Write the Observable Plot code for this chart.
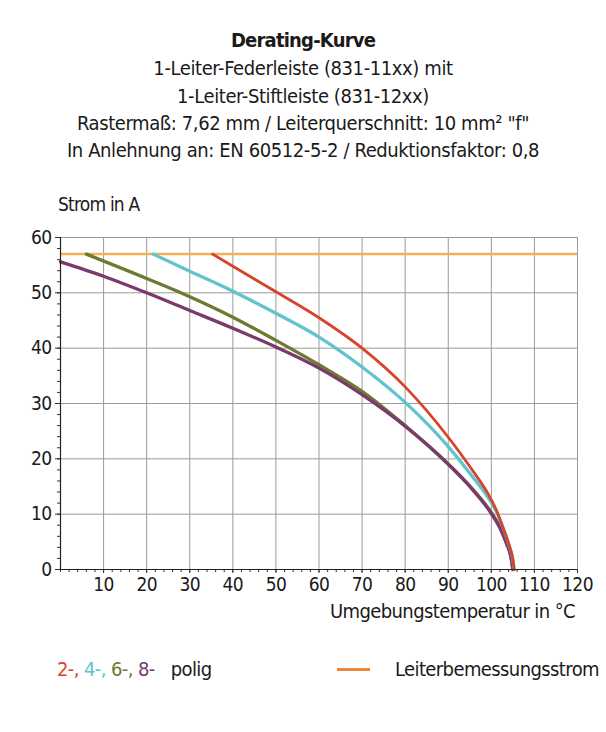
<!DOCTYPE html>
<html><head><meta charset="utf-8">
<script src="https://cdn.jsdelivr.net/npm/d3@7"></script>
<script src="https://cdn.jsdelivr.net/npm/@observablehq/plot@0.6"></script>
<style>
body{margin:0;background:#fff;font-family:"Liberation Sans Narrow","DejaVu Sans Condensed","DejaVu Sans",sans-serif;font-stretch:condensed;color:#1a1a1a;}
#wrap{position:relative;width:606px;height:732px;overflow:hidden;background:#fff}
.t{position:absolute;white-space:nowrap;font-size:20px;line-height:20px;letter-spacing:-0.4px}
.c{left:0;width:606px;text-align:center}
#chart{position:absolute;left:0;top:170px}
.dash{position:absolute;height:3px;background:#e9883c}
</style></head><body><div id="wrap">
<div class="t c" style="top:30px;font-weight:bold;letter-spacing:-0.8px">Derating-Kurve</div>
<div class="t c" style="top:58px">1-Leiter-Federleiste (831-11xx) mit</div>
<div class="t c" style="top:86px">1-Leiter-Stiftleiste (831-12xx)</div>
<div class="t c" style="top:113px">Rastermaß: 7,62 mm / Leiterquerschnitt: 10 mm² "f"</div>
<div class="t c" style="top:140px">In Anlehnung an: EN 60512-5-2 / Reduktionsfaktor: 0,8</div>
<div class="t" style="top:194px;left:58px;font-size:19px;letter-spacing:-0.8px">Strom in A</div>
<div id="chart"></div>
<div class="t" style="top:601px;right:31px;letter-spacing:-0.6px">Umgebungstemperatur in °C</div>
<div class="t" id="leg1" style="top:659px;left:57px;letter-spacing:-0.6px"></div>
<div class="dash" style="top:668px;left:337px;width:33px"></div>
<div class="t" style="top:659px;right:7px;letter-spacing:-0.6px">Leiterbemessungsstrom</div>
</div>
<script>
// Series names and colours
const seriesNames = ["2-polig", "4-polig", "6-polig", "8-polig"];
const seriesColors = ["#d8432c", "#60c4ce", "#6d7a31", "#7a3a6c"];
const legendLabels = ["2-", "4-", "6-", "8-"];
const ratedCurrent = 57; // Leiterbemessungsstrom
const ratedColor = "#f5b150";

// Derating curves: temperature (°C) and current (A)
const temp2 = [35.3, 40, 50, 60, 70, 80, 90, 95, 100, 101.4, 102.5, 104.2, 104.9, 105.3];
const amps2 = [57, 54.8, 50.2, 45.5, 40.0, 33.0, 23.9, 18.6, 12.6, 10.3, 8.0, 4.2, 2.2, 0];

const temp4 = [21.5, 30, 40, 50, 60, 70, 80, 90, 95, 100, 101.4, 102.5, 104.2, 104.9, 105.3];
const amps4 = [57, 53.9, 50.3, 46.3, 42.0, 36.6, 30.2, 22.2, 17.4, 12.1, 10.1, 8.0, 4.2, 2.2, 0];

const temp6 = [6, 20, 30, 40, 50, 60, 70, 80, 90, 95, 100, 102, 103.5, 104.5, 105];
const amps6 = [57, 52.6, 49.3, 45.6, 41.4, 37.0, 32.2, 26.0, 19.1, 15.1, 10.3, 7.7, 4.9, 2.5, 0];

const temp8 = [0, 10, 20, 30, 40, 50, 60, 70, 80, 90, 95, 100, 102, 103.5, 104.5, 105];
const amps8 = [55.6, 53.0, 50.0, 46.8, 43.6, 40.2, 36.4, 31.6, 25.9, 19.0, 15.0, 10.1, 7.5, 4.7, 2.4, 0];

const xTicks = [10, 20, 30, 40, 50, 60, 70, 80, 90, 100, 110, 120];
const yTicks = [0, 10, 20, 30, 40, 50, 60];

const allTemps = [temp2, temp4, temp6, temp8];
const allAmps = [amps2, amps4, amps6, amps8];
const data = [];
// draw order: 6, 8, 4, 2 (2-polig on top)
for (const i of [2, 3, 1, 0]) {
  allTemps[i].forEach((t, j) => data.push({series: seriesNames[i], t, a: allAmps[i][j]}));
}

const font = '"Liberation Sans Narrow","DejaVu Sans Condensed","DejaVu Sans",sans-serif';
const chart = Plot.plot({
  width: 606,
  height: 470,
  marginTop: 67,
  marginBottom: 71,
  marginLeft: 60,
  marginRight: 29,
  style: {fontFamily: font, fontSize: "19px", fontStretch: "condensed", letterSpacing: "-0.6px", color: "#1a1a1a", background: "transparent"},
  x: {domain: [0, 120]},
  y: {domain: [0, 60]},
  color: {domain: seriesNames, range: seriesColors},
  marks: [
    Plot.gridX(xTicks, {stroke: "#9a9a9a", strokeOpacity: 1, strokeWidth: 1}),
    Plot.gridY(yTicks.filter(d => d > 0), {stroke: "#9a9a9a", strokeOpacity: 1, strokeWidth: 1}),
    Plot.axisX(d3.range(0, 121, 2), {tickSize: 3, tickFormat: () => "", label: null, stroke: "#333"}),
    Plot.axisY(d3.range(0, 61, 2), {tickSize: 3, tickFormat: () => "", label: null, stroke: "#333"}),
    Plot.axisX(xTicks, {tickSize: 4, tickPadding: 4, label: null, stroke: "#333"}),
    Plot.axisY(yTicks, {tickSize: 5, tickPadding: 4, label: null, stroke: "#333"}),
    Plot.ruleY([ratedCurrent], {stroke: ratedColor, strokeWidth: 2.5}),
    Plot.line(data, {x: "t", y: "a", z: "series", stroke: "series", strokeWidth: d => d.series === "2-polig" ? 2.8 : 3.3, curve: "monotone-x"}),
    Plot.ruleX([0], {stroke: "#222", strokeWidth: 1.2}),
    Plot.ruleY([0], {stroke: "#222", strokeWidth: 1.2})
  ]
});
document.getElementById("chart").appendChild(chart);

const leg = document.getElementById("leg1");
leg.innerHTML = legendLabels.map((l, i) =>
  `<span style="color:${seriesColors[i]}">${l}</span>` + (i < 3 ? `<span style="color:${seriesColors[i]}">, </span>` : "")
).join("") + `<span style="margin-left:16px">polig</span>`;
</script>
</body></html>
